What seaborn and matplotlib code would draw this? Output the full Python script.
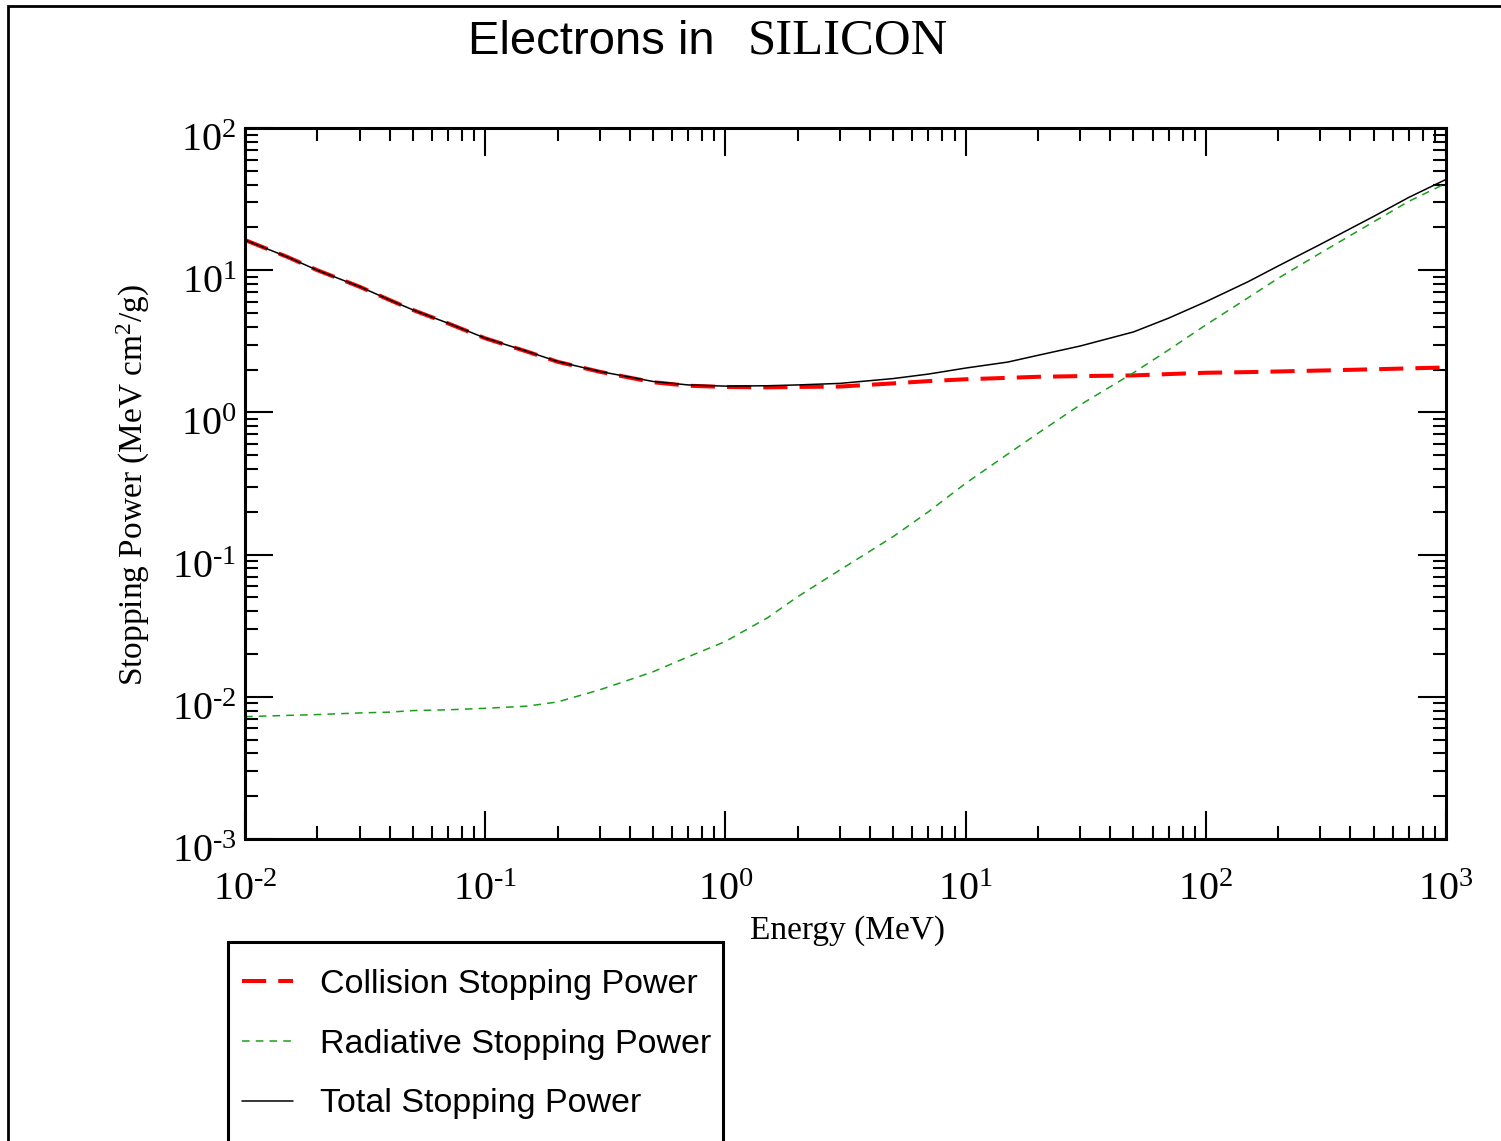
import numpy as np
import pandas as pd
import matplotlib
matplotlib.use("Agg")
import matplotlib.pyplot as plt
import matplotlib.ticker as mticker
import matplotlib.transforms as mtransforms
from matplotlib.patches import Rectangle
from matplotlib.lines import Line2D
import seaborn as sns

# Electron stopping powers in silicon (MeV cm^2/g)
energy_mev = [0.01, 0.015, 0.02, 0.03, 0.04, 0.05, 0.07, 0.1, 0.15, 0.2, 0.3,
              0.5, 0.7, 1.0, 1.5, 2.0, 3.0, 5.0, 7.0, 10.0, 15.0, 20.0, 30.0,
              50.0, 70.0, 100.0, 150.0, 200.0, 300.0, 500.0, 700.0, 1000.0]
collision_sp = [16.3, 12.4, 10.0, 7.65, 6.17, 5.25, 4.23, 3.32, 2.67, 2.27, 1.93,
                1.63, 1.54, 1.51, 1.50, 1.51, 1.52, 1.60, 1.66, 1.71, 1.75, 1.78,
                1.80, 1.82, 1.86, 1.90, 1.92, 1.94, 1.97, 2.01, 2.04, 2.07]
radiative_sp = [0.00725, 0.0074, 0.0075, 0.0077, 0.0078, 0.0080, 0.0081, 0.0083,
                0.0086, 0.0092, 0.0112, 0.0150, 0.0191, 0.0245, 0.036, 0.0506,
                0.078, 0.134, 0.20, 0.317, 0.51, 0.713, 1.13, 1.90, 2.75, 4.12,
                6.4, 8.77, 13.2, 21.9, 30.5, 40.8]
total_sp = [16.3, 12.4, 10.0, 7.66, 6.18, 5.26, 4.24, 3.33, 2.68, 2.28, 1.94,
            1.65, 1.56, 1.53, 1.54, 1.56, 1.60, 1.73, 1.86, 2.05, 2.26, 2.52,
            2.93, 3.68, 4.6, 6.0, 8.3, 10.7, 15.2, 23.9, 32.5, 43.5]

series_names = ["Collision Stopping Power", "Radiative Stopping Power",
                "Total Stopping Power"]

sns.set_theme(style="white")
plt.rcParams["font.family"] = ["Liberation Serif", "DejaVu Serif"]
plt.rcParams["mathtext.fontset"] = "custom"
plt.rcParams["mathtext.rm"] = "Liberation Serif"
plt.rcParams["mathtext.default"] = "regular"
for key in ["text.color", "axes.labelcolor", "xtick.color", "ytick.color",
            "axes.edgecolor"]:
    plt.rcParams[key] = "black"

W, H = 1501, 1141
fig = plt.figure(figsize=(W / 100, H / 100), dpi=100)
fig.patch.set_facecolor("white")

# axes box in pixel terms
x0, x1, y0, y1 = 245, 1446, 128, 839
ax = fig.add_axes([x0 / W, 1 - y1 / H, (x1 - x0) / W, (y1 - y0) / H])
ax.set_facecolor("white")

df = pd.DataFrame({"E": energy_mev, "col": collision_sp,
                   "rad": radiative_sp, "tot": total_sp})

red = "#ff0000"
green = "#1c9e1c"
sns.lineplot(data=df, x="E", y="col", ax=ax, color=red, lw=2.9,
             linestyle=(0, (6, 3)), sort=True)
sns.lineplot(data=df, x="E", y="rad", ax=ax, color=green, lw=1.1,
             linestyle=(0, (5, 4)), sort=True)
sns.lineplot(data=df, x="E", y="tot", ax=ax, color="black", lw=1.1, sort=True)

ax.set_xscale("log")
ax.set_yscale("log")
ax.set_xlim(1e-2, 1e3)
ax.set_ylim(1e-3, 1e2)

for sp in ax.spines.values():
    sp.set_visible(True)
    sp.set_linewidth(2.2)
    sp.set_color("black")

ax.xaxis.set_major_locator(mticker.LogLocator(base=10, numticks=20))
ax.yaxis.set_major_locator(mticker.LogLocator(base=10, numticks=20))
ax.xaxis.set_minor_locator(mticker.LogLocator(base=10, subs=np.arange(2, 10), numticks=50))
ax.yaxis.set_minor_locator(mticker.LogLocator(base=10, subs=np.arange(2, 10), numticks=50))
ax.xaxis.set_minor_formatter(mticker.NullFormatter())
ax.yaxis.set_minor_formatter(mticker.NullFormatter())

def pow_fmt(v, pos):
    p = int(round(np.log10(v)))
    exp = ("\u2010%d" % -p) if p < 0 else ("%d" % p)
    return r"$10^{%s}$" % exp

ax.xaxis.set_major_formatter(mticker.FuncFormatter(pow_fmt))
ax.yaxis.set_major_formatter(mticker.FuncFormatter(pow_fmt))

ax.tick_params(which="both", direction="in", top=True, right=True,
               bottom=True, left=True, color="black", labelcolor="black")
ax.tick_params(which="major", length=20, width=1.5, labelsize=29)
ax.tick_params(which="minor", length=9.5, width=1.5)
ax.tick_params(axis="x", which="major", pad=24)
ax.tick_params(axis="y", which="major", pad=6)

# y tick labels sit slightly below their ticks
ydown = mtransforms.ScaledTranslation(0, -9 / 100, fig.dpi_scale_trans)
for tick in ax.yaxis.get_major_ticks():
    tick.label1.set_transform(tick.label1.get_transform() + ydown)

ax.set_xlabel("Energy (MeV)", fontsize=24, va="center", ha="center")
ax.xaxis.set_label_coords((847 - x0) / (x1 - x0), (y1 - 931) / (y1 - y0))
ax.set_ylabel(r"Stopping Power (MeV cm$^{2}$/g)", fontsize=24,
              va="center", ha="center")
ax.yaxis.set_label_coords((133 - x0) / (x1 - x0), (y1 - 485) / (y1 - y0))

if ax.get_legend() is not None:
    ax.get_legend().remove()

# title: sans-serif phrase followed by the element name in serif
fig.text(468 / W, 1 - 54 / H, "Electrons in", fontsize=34, color="black",
         family=["Liberation Sans", "DejaVu Sans"], ha="left", va="baseline")
fig.text(748 / W, 1 - 54 / H, "SILICON", fontsize=36.5, color="black",
         family=["Liberation Serif", "DejaVu Serif"], ha="left", va="baseline")

handles = [
    Line2D([], [], color=red, lw=2.9, linestyle=(0, (6, 3))),
    Line2D([], [], color=green, lw=1.1, linestyle=(0, (5, 4))),
    Line2D([], [], color="black", lw=1.1),
]
leg = fig.legend(handles, series_names, loc="upper left",
                 bbox_to_anchor=(228 / W, 1 - 955 / H), borderaxespad=0,
                 prop={"family": ["Liberation Sans", "DejaVu Sans"], "size": 24.5},
                 frameon=False, handlelength=1.5, handletextpad=0.8,
                 borderpad=0.4, labelspacing=0.85)
for t in leg.get_texts():
    t.set_color("black")

# legend box, running off the bottom of the page
fig.patches.append(Rectangle((228 / W, -0.05), (723 - 228) / W, 0.05 + 1 - 942 / H,
                             transform=fig.transFigure, fill=False,
                             edgecolor="black", lw=2.2, clip_on=False))

# outer page frame (top and left edges visible)
fig.patches.append(Rectangle((8 / W, -0.2), 1.5, 1.2 - 6 / H,
                             transform=fig.transFigure, fill=False,
                             edgecolor="black", lw=2, clip_on=False))

fig.savefig("out.png", dpi=100, facecolor="white")
